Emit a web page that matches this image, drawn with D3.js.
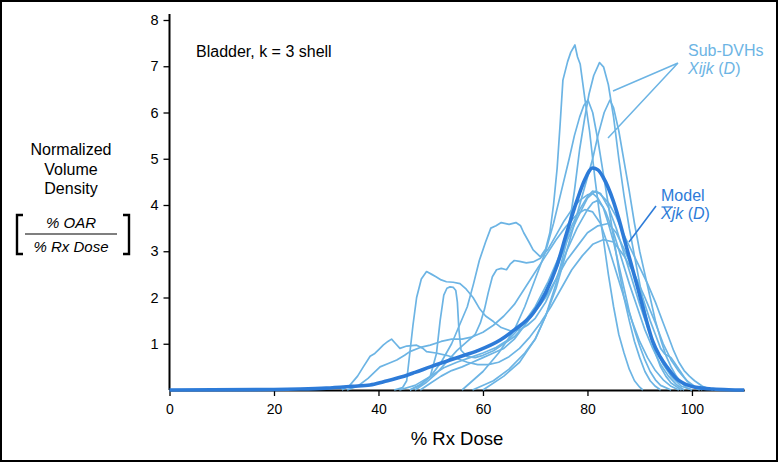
<!DOCTYPE html>
<html><head><meta charset="utf-8">
<script src="https://cdn.jsdelivr.net/npm/d3@7"></script>
<style>
html,body{margin:0;padding:0;background:#fff;}
svg{display:block;font-family:"Liberation Sans",Arial,sans-serif;}
</style></head>
<body>
<svg id="c" width="778" height="462"></svg>
<script>
// ---- data ----
const xTicks = [0, 20, 40, 60, 80, 100];
const yTicks = [1, 2, 3, 4, 5, 6, 7, 8];
const modelCurve = [[0,0],[20,0.01],[25,0.02],[30,0.04],[35,0.08],[38.4,0.11],[41,0.18],[44.7,0.29],[47,0.38],[49.9,0.5],[53.7,0.65],[55.6,0.72],[59,0.85],[63.3,1.08],[66,1.3],[69.6,1.66],[72,2.1],[74.1,2.67],[76,3.39],[78,4.1],[79.5,4.55],[81,4.8],[82,4.76],[83,4.6],[84.9,4.1],[86,3.7],[87.2,3.2],[88.3,2.75],[89.4,2.3],[91.3,1.5],[92.5,1.05],[93.9,0.72],[95.2,0.5],[97,0.25],[99.6,0.09],[102,0.04],[104,0.02],[107,0.005],[110,0]];
const subT1 = [[44,0],[47,0.1],[50,0.3],[52,0.6],[54,1.0],[55.5,1.4],[57,1.8],[58.2,2.3],[59.3,2.8],[60.5,3.2],[61.5,3.5],[62.5,3.55],[63.5,3.62],[65,3.58],[66.3,3.62],[67.2,3.55],[67.8,3.4],[68.8,3.2],[69.6,3.03],[71,2.88],[72,3.05],[72.8,3.4],[73.5,4.0],[74.2,4.8],[74.8,5.8],[75.3,6.7],[76.2,7.1],[76.8,7.3],[77.6,7.46],[78.1,7.2],[78.6,7.05],[79.5,6.3],[80.4,5.6],[81.4,4.6],[82.2,3.9],[83,3.3],[84,2.5],[85,1.8],[86,1.2],[87,0.8],[88,0.45],[89,0.2],[90,0.06],[90.6,0]];
const subT2 = [[58,0],[62,0.2],[65,0.45],[68,0.8],[70,1.1],[72,1.6],[74,2.3],[76,3.2],[77.5,4.3],[78.5,5.2],[79.5,5.9],[80.3,6.4],[81.2,6.8],[82.3,7.08],[83.1,6.98],[84,6.6],[85,5.9],[86,5.0],[87,4.2],[88,3.5],[89,2.9],[90,2.3],[91,1.7],[92,1.2],[93,0.8],[94,0.5],[95,0.3],[96,0.15],[98,0]];
const subT3 = [[56,0],[60,0.4],[63,0.8],[66,1.3],[68,1.8],[70,2.4],[72,3.0],[73.5,3.6],[75,4.3],[76.5,5.0],[77.5,5.5],[78.5,5.9],[79.3,6.15],[80.1,6.27],[81,6.0],[82,5.4],[83,4.7],[84,4.0],[85,3.3],[86,2.6],[87,2.0],[88,1.5],[89,1.05],[90,0.7],[91,0.4],[92,0.2],[93,0.08],[94,0]];
const subT4 = [[60,0],[64,0.3],[67,0.6],[70,1.1],[72,1.6],[74,2.2],[76,3.0],[78,3.8],[79.5,4.4],[81,5.0],[82,5.5],[83.2,6.0],[84.3,6.27],[85,6.1],[86,5.6],[87,4.95],[88,4.3],[89,3.6],[90,3.0],[91,2.5],[92,2.0],[93,1.5],[94,1.1],[95,0.75],[96,0.5],[97,0.3],[98,0.15],[99,0.05],[100,0]];
const subP1 = [[43,0],[44.6,0.05],[45.4,0.2],[46,0.8],[46.6,1.4],[47.3,2.0],[48.2,2.4],[49.2,2.56],[50.2,2.5],[51,2.45],[52,2.38],[53,2.34],[54.3,2.33],[55.6,2.3],[56.8,2.18],[58.1,2.0],[59.4,1.75],[60.5,1.6],[62,1.48],[63.5,1.35],[65.2,1.28],[67,1.3],[68.5,1.4],[70,1.55],[72,1.9],[74,2.4],[76,3.0],[78,3.5],[80,3.9],[81,4.05],[82,4.1],[83,3.95],[84,3.6],[85,3.2],[86,2.7],[87,2.2],[88,1.7],[89,1.3],[90,0.95],[91,0.65],[92,0.4],[93,0.22],[94,0.1],[96,0]];
const subS1 = [[46,0],[48,0.1],[49.9,0.29],[51.1,0.79],[51.8,1.5],[52.5,2.05],[53.1,2.2],[53.7,2.23],[54.3,2.22],[54.8,2.15],[55.1,1.9],[55.4,1.3],[55.8,0.86],[57,0.72],[58.5,0.7],[60,0.75],[62,0.85],[64,1.0],[66,1.15],[68,1.4],[70,1.75],[72,2.15],[74,2.6],[76,3.2],[78,3.7],[80,4.15],[81.5,4.3],[82.5,4.25],[84,3.95],[85.5,3.5],[87,2.95],[88.5,2.4],[90,1.85],[91.5,1.35],[93,0.9],[94.5,0.55],[96,0.3],[98,0.08],[100,0]];
const subA = [[33,0],[34.5,0.1],[36,0.3],[37.1,0.5],[38.4,0.73],[39.3,0.79],[40.1,0.88],[40.9,0.97],[41.8,1.05],[42.5,1.1],[43.3,1.0],[44.1,0.9],[45.4,0.95],[47.3,0.97],[48.5,0.9],[49.2,0.83],[51,0.8],[53,0.75],[55,0.68],[57,0.6],[59,0.55],[61,0.55],[63,0.6],[65,0.72],[67,0.9],[69,1.15],[71,1.45],[73,1.8],[75,2.2],[77,2.6],[79,2.9],[81,3.15],[83,3.25],[85,3.2],[87,2.9],[89,2.5],[91,2.0],[93,1.45],[94.5,1.0],[96,0.65],[97.5,0.4],[99,0.2],[100.5,0.08],[102,0]];
const subB = [[34,0],[36,0.08],[38,0.25],[40.3,0.5],[42,0.58],[43.5,0.65],[45,0.75],[46,0.83],[48,0.92],[49.9,0.97],[52,1.05],[54,1.1],[56,1.1],[58,1.15],[60,1.25],[62,1.4],[64,1.6],[66,1.85],[68,2.2],[70,2.55],[72,2.9],[74,3.25],[76,3.55],[78,3.8],[79.5,3.9],[81,3.85],[82.5,3.6],[84,3.1],[85.5,2.55],[87,2.0],[88.5,1.5],[90,1.05],[91.5,0.7],[93,0.42],[94.5,0.22],[96,0.08],[97.5,0]];
const subC = [[46,0],[48,0.12],[50,0.3],[52.5,0.48],[55,0.6],[57.5,0.7],[60,0.8],[62.5,0.92],[65,1.1],[67.5,1.4],[70,1.8],[72.5,2.35],[75,3.0],[77,3.55],[78.5,3.9],[80,4.18],[81,4.3],[82.3,4.25],[84,4.05],[85.5,3.75],[87,3.35],[88.5,3.0],[90,2.65],[91.5,2.3],[93,1.9],[94.5,1.45],[95.5,1.15],[96.5,0.85],[97.5,0.6],[98.5,0.42],[99.5,0.3],[100.5,0.2],[102,0.08],[104,0]];
const subD = [[48,0],[50,0.15],[52,0.3],[54,0.42],[56,0.5],[58,0.6],[60,0.7],[62,0.8],[64,0.9],[66,1.1],[68,1.4],[70,1.7],[72,2.0],[74,2.4],[76,2.8],[78,3.1],[80,3.4],[82,3.55],[84,3.6],[85.5,3.4],[87,3.05],[88.5,2.65],[90,2.2],[91,1.85],[92,1.5],[93,1.2],[94,0.9],[94.8,0.78],[95.4,0.74],[96,0.7],[96.6,0.6],[97.5,0.45],[98.5,0.28],[99.5,0.14],[100.5,0.05],[101.5,0]];
const subE = [[47,0],[49,0.15],[51,0.35],[53,0.6],[55,0.85],[57,1.05],[58.5,1.2],[59.5,1.45],[60.3,1.75],[61,2.1],[61.8,2.45],[62.6,2.6],[63.5,2.63],[64.5,2.6],[65.2,2.72],[66,2.8],[67,2.78],[68.3,2.75],[69.6,2.77],[71,2.85],[72.5,3.05],[74,3.35],[75.5,3.65],[77,3.9],[78.5,4.1],[80,4.22],[81,4.25],[82,4.15],[83.5,3.85],[85,3.4],[86.5,2.85],[88,2.3],[89.5,1.8],[91,1.3],[92.5,0.9],[94,0.55],[95.5,0.3],[97,0.12],[98.5,0]];
const subCurves = [subA, subB, subP1, subS1, subC, subD, subE, subT1, subT2, subT3, subT4];

// ---- drawing ----
const svg = d3.select("#c");
const W = 778, H = 462;
const LIGHT = "#6cb4e4", DARK = "#2d7bd8";
const x = d3.scaleLinear().domain([0, 110]).range([169.5, 744.2]);
const y = d3.scaleLinear().domain([0, 8]).range([390, 20]);

svg.append("rect").attr("x",1).attr("y",1).attr("width",W-2).attr("height",H-2)
  .attr("fill","#fff").attr("stroke","#000").attr("stroke-width",2);

// x axis
const xAxis = svg.append("g").attr("transform","translate(0,390)")
  .call(d3.axisBottom(x).tickValues(xTicks).tickSize(6).tickPadding(8).tickSizeOuter(0));
xAxis.select(".domain").attr("stroke","#000").attr("stroke-width",2);
xAxis.selectAll(".tick line").attr("stroke","#000").attr("stroke-width",1.3);
xAxis.selectAll("text").attr("font-size",14).attr("font-family","Liberation Sans, Arial").attr("fill","#000");

// y axis
const yAxis = svg.append("g").attr("transform","translate(169.5,0)")
  .call(d3.axisLeft(y).tickValues(yTicks).tickSize(6).tickPadding(5).tickSizeOuter(0));
yAxis.select(".domain").attr("d","M0,14V390").attr("stroke","#000").attr("stroke-width",2);
yAxis.selectAll(".tick line").attr("stroke","#000").attr("stroke-width",1.3);
yAxis.selectAll("text").attr("font-size",14.5).attr("font-family","Liberation Sans, Arial").attr("fill","#000");

const line = d3.line().x(d => x(d[0])).y(d => y(d[1])).curve(d3.curveLinear);
const smooth = d3.line().x(d => x(d[0])).y(d => y(d[1])).curve(d3.curveMonotoneX);

svg.append("g").selectAll("path").data(subCurves).join("path")
  .attr("d", line).attr("fill","none").attr("stroke",LIGHT).attr("stroke-width",1.7)
  .attr("stroke-linejoin","round");

svg.append("path").datum(modelCurve).attr("d", smooth).attr("fill","none")
  .attr("stroke",DARK).attr("stroke-width",3.6).attr("stroke-linejoin","round");

// title inside
svg.append("text").attr("x",196).attr("y",57).attr("font-size",16).text("Bladder, k = 3 shell");

// x title
svg.append("text").attr("x",457).attr("y",445).attr("text-anchor","middle").attr("font-size",18.5)
  .text("% Rx Dose");

// y label
const yl = svg.append("g").attr("font-size",16).attr("text-anchor","middle");
[["Normalized",155],["Volume",175],["Density",194]].forEach(([t,yy]) =>
  yl.append("text").attr("x",71).attr("y",yy).text(t));
yl.append("text").attr("x",71).attr("y",228).attr("font-size",15).attr("font-style","italic").text("% OAR");
yl.append("text").attr("x",71).attr("y",252).attr("font-size",15).attr("font-style","italic").text("% Rx Dose");
svg.append("line").attr("x1",25).attr("x2",117).attr("y1",234).attr("y2",234).attr("stroke","#000").attr("stroke-width",1.2);
svg.append("path").attr("d","M23,215H17V254H23").attr("fill","none").attr("stroke","#000").attr("stroke-width",2.4);
svg.append("path").attr("d","M123,215H129V254H123").attr("fill","none").attr("stroke","#000").attr("stroke-width",2.4);

// annotations
const sub = svg.append("g").attr("fill",LIGHT).attr("font-size",16);
sub.append("text").attr("x",688).attr("y",56).text("Sub-DVHs");
const t2 = sub.append("text").attr("x",688).attr("y",74);
t2.append("tspan").attr("font-style","italic").text("Xijk");
t2.append("tspan").text(" (");
t2.append("tspan").attr("font-style","italic").text("D");
t2.append("tspan").text(")");
svg.append("path").attr("d","M678,63L613,91M678,63L608,138").attr("stroke",LIGHT).attr("stroke-width",1.5).attr("fill","none");

const mod = svg.append("g").attr("fill",DARK).attr("font-size",16);
mod.append("text").attr("x",661).attr("y",201).text("Model");
const t3 = mod.append("text").attr("x",661).attr("y",219);
const xs = t3.append("tspan").attr("font-style","italic").text("X");
t3.append("tspan").attr("font-style","italic").text("jk");
t3.append("tspan").text(" (");
t3.append("tspan").attr("font-style","italic").text("D");
t3.append("tspan").text(")");
const bb = xs.node().getBBox();
svg.append("line").attr("x1",bb.x+1.5).attr("x2",bb.x+bb.width).attr("y1",bb.y+2).attr("y2",bb.y+2)
  .attr("stroke",DARK).attr("stroke-width",1.2);
svg.append("path").attr("d","M656,206L629,242").attr("stroke",DARK).attr("stroke-width",1.5).attr("fill","none");
</script>
</body></html>
